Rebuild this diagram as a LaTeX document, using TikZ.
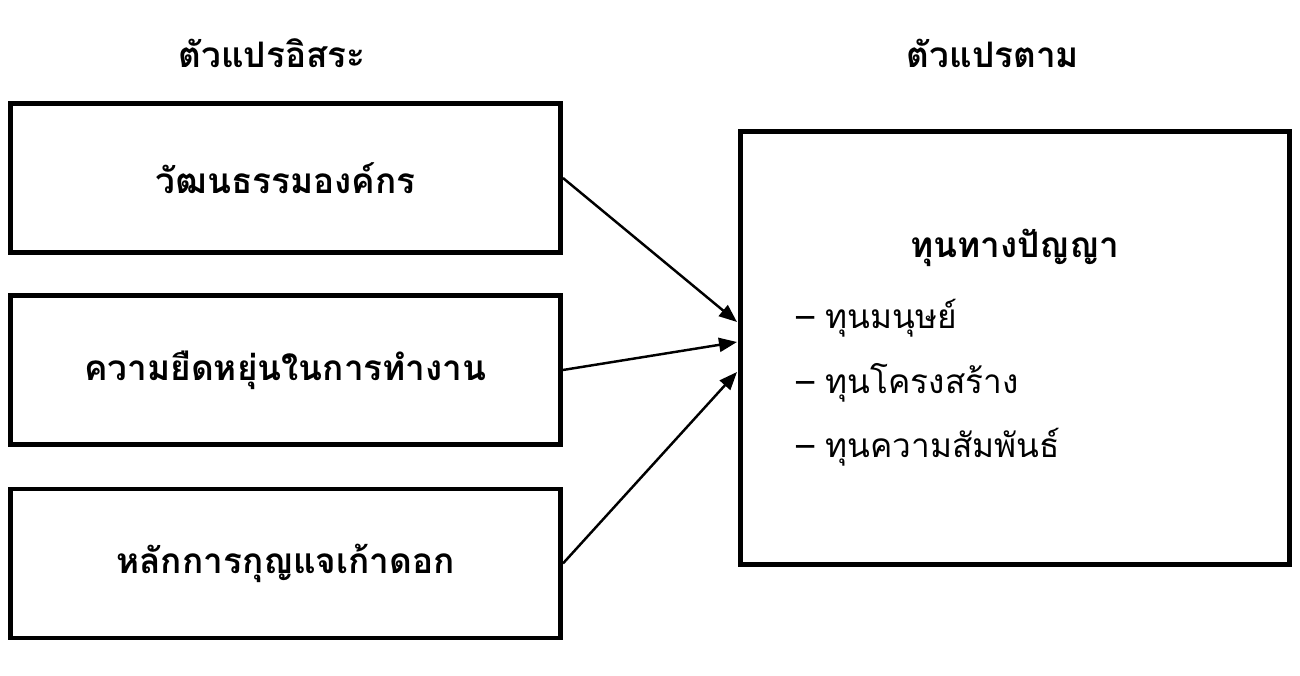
\documentclass[tikz,border=0pt]{standalone}
\usepackage{fontspec}
\newfontfamily\thaifont[Script=Thai]{Loma}
\usetikzlibrary{arrows.meta}
\tikzstyle{Head}=[font=\thaifont\bfseries\fontsize{20}{24}\selectfont]
\tikzstyle{Box}=[draw,line width=2.8pt,minimum width=11cm,
minimum height=2.98cm,font=\thaifont\bfseries\fontsize{20}{24}\selectfont]
\tikzstyle{BigBox}=[draw,line width=2.8pt,minimum width=10.98cm,
minimum height=8.66cm]
\tikzstyle{Item}=[anchor=west,font=\thaifont\fontsize{19}{23}\selectfont]
\tikzstyle{Arrow}=[line width=1.4pt,-{Triangle[length=3.6mm,width=2.8mm]}]

\begin{document}
\begin{tikzpicture}
        \useasboundingbox(0,0)rectangle(26,13.52);
        \node[Head](iv)at(5.44,12.46){ตัวแปรอิสระ};
        \node[Head](dv)at(19.86,12.46){ตัวแปรตาม};
        \node[Box](b1)at(5.71,9.96){วัฒนธรรมองค์กร};
        \node[Box](b2)at(5.71,6.12){ความยืดหยุ่นในการทำงาน};
        \node[Box](b3)at(5.71,2.25){หลักการกุญแจเก้าดอก};
        \node[BigBox](ic)at(20.3,6.56){};
        \node[Head](t)at(20.3,8.56){ทุนทางปัญญา};
        \node[Item](i1)at(15.8,7.16){– ทุนมนุษย์};
        \node[Item](i2)at(15.8,5.86){– ทุนโครงสร้าง};
        \node[Item](i3)at(15.8,4.58){– ทุนความสัมพันธ์};
        \coordinate(e1)at(14.74,7.08);
        \coordinate(e2)at(14.74,6.68);
        \coordinate(e3)at(14.74,6.08);
        \draw[Arrow](b1.east)--(e1);
        \draw[Arrow](b2.east)--(e2);
        \draw[Arrow](b3.east)--(e3);
    \end{tikzpicture}
\end{document}
